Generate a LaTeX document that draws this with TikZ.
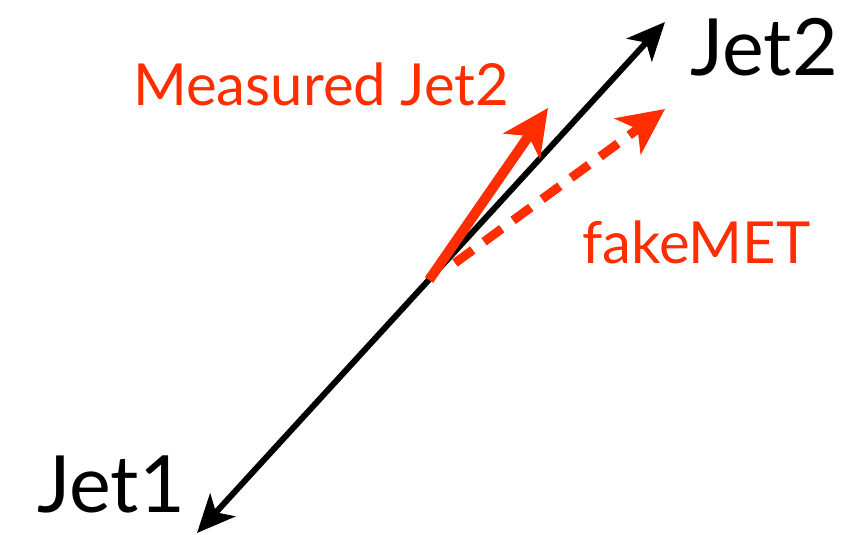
\documentclass[tikz,border=0pt]{standalone}
\usepackage{fontspec}
\setmainfont{Lato}
\usepackage{xcolor}
\usepackage{tikz}
\usetikzlibrary{arrows.meta,positioning}
\definecolor{metred}{HTML}{FF2D00}

\begin{document}
\begin{tikzpicture}[x=1pt,y=-1pt,
  biglabel/.style={anchor=base west,inner sep=0pt,font=\fontsize{79}{86}\selectfont},
  redlabel/.style={anchor=base west,inner sep=0pt,text=metred,font=\fontsize{58}{64}\selectfont},
  redhead/.style={-{Stealth[length=46pt,width=44pt,inset=12pt]}}]
  \useasboundingbox (0,0) rectangle (867,535);
  \coordinate (jettwo) at (665,22);
  \coordinate (jetone) at (197,533);
  \coordinate (vtx) at (429,280);
  \coordinate (meastip) at (548,108);
  \coordinate (fakestart) at (455,263);
  \coordinate (faketip) at (665,109);
  \node[biglabel] (lbltwo) at (690,75) {Jet2};
  \node[biglabel] (lblone) at (37,512) {Jet1};
  \node[redlabel] (lblmeas) at (133,105) {Measured Jet2};
  \node[redlabel] (lblfake) at (582,263) {fakeMET};
  \draw[{Stealth[length=38pt,width=34pt,inset=10pt]}-{Stealth[length=38pt,width=34pt,inset=10pt]},line width=6pt] (jetone) -- (jettwo);
  \draw[redhead,line width=10pt,metred] (vtx) -- (meastip);
  \draw[redhead,line width=9pt,metred,dash pattern=on 22pt off 14pt] (fakestart) -- (faketip);
\end{tikzpicture}
\end{document}
